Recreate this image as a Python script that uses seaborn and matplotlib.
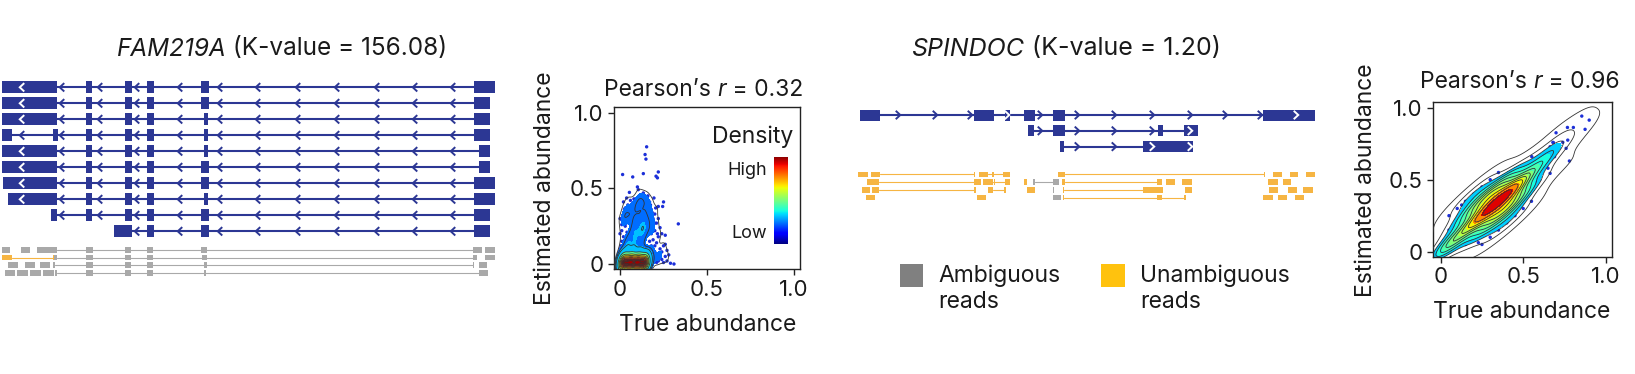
import numpy as np
import pandas as pd
import matplotlib
matplotlib.use("Agg")
import matplotlib.pyplot as plt
from matplotlib.colors import ListedColormap
from matplotlib.patches import Rectangle
from matplotlib import font_manager as fm
import seaborn as sns

# ---------------- data ----------------
fam_gene, fam_k = "FAM219A", "156.08"
spi_gene, spi_k = "SPINDOC", "1.20"

fam_transcripts = [
    [(2, 57), (86, 92), (125, 132), (147, 154), (201, 209), (474, 495)],
    [(2, 57), (86, 92), (125, 132), (147, 154), (201, 209), (474, 490)],
    [(2, 57), (86, 92), (125, 132), (147, 154), (204, 208), (474, 490)],
    [(2, 12), (53, 58), (86, 92), (125, 132), (147, 154), (204, 208), (474, 490)],
    [(2, 57), (86, 92), (125, 132), (147, 154), (204, 208), (479, 490)],
    [(2, 57), (86, 92), (125, 132), (147, 154), (201, 209), (479, 490)],
    [(3, 57), (86, 92), (125, 132), (147, 154), (201, 209), (474, 495)],
    [(8, 57), (86, 92), (125, 132), (147, 154), (204, 208), (474, 495)],
    [(51, 57), (86, 92), (125, 132), (147, 154), (201, 209), (474, 490)],
    [(114, 132), (147, 154), (201, 209), (474, 490)],
]
fam_chevrons = [22, 62, 100, 137, 180, 220, 258, 298, 337, 377, 415, 453]
fam_strand = -1

fam_reads = [
    (0, "amb", [(2, 10)]), (0, "amb", [(21, 30)]),
    (0, "amb", [(37, 57), (86, 93), (125, 131), (147, 153), (201, 207), (473, 482)]),
    (0, "amb", [(485, 495)]),
    (1, "una", [(2, 12), (53, 55)]),
    (1, "amb", [(54, 57), (86, 93), (125, 131), (147, 153), (202, 207), (473, 477)]),
    (1, "amb", [(485, 495)]),
    (2, "amb", [(8, 18)]), (2, "amb", [(25, 35)]), (2, "amb", [(40, 50)]),
    (2, "amb", [(53, 55), (86, 93), (125, 131), (147, 153), (204, 207), (473, 474)]),
    (2, "amb", [(479, 487)]),
    (3, "amb", [(5, 15)]), (3, "amb", [(17, 28)]), (3, "amb", [(30, 41)]), (3, "amb", [(43, 54)]),
    (3, "amb", [(55, 57), (86, 93), (125, 131), (147, 153), (204, 206), (479, 488)]),
]

spi_transcripts = [
    [(860, 880), (974, 994), (1005, 1010), (1024, 1035), (1053, 1065), (1263, 1315)],
    [(1028, 1034), (1053, 1065), (1158, 1163), (1184, 1198)],
    [(1060, 1064), (1143, 1193)],
]
spi_chevrons = [898, 935, 970, 1007, 1040, 1077, 1114, 1152, 1190, 1225, 1260, 1296]
spi_strand = 1

spi_reads = [
    (0, "una", [(858, 868)]), (0, "una", [(871, 880), (974, 975)]),
    (0, "una", [(979, 988), (992, 994), (1003, 1010)]),
    (0, "una", [(1058, 1065), (1264, 1265)]),
    (0, "una", [(1273, 1282)]), (0, "una", [(1290, 1298)]), (0, "una", [(1306, 1315)]),
    (1, "una", [(867, 879), (974, 981)]), (1, "una", [(983, 993), (994, 995), (1005, 1010)]),
    (1, "una", [(1024, 1027)]), (1, "amb", [(1033, 1035), (1053, 1059)]),
    (1, "una", [(1062, 1065), (1157, 1162)]), (1, "una", [(1166, 1175)]), (1, "una", [(1182, 1192)]),
    (1, "una", [(1268, 1278)]), (1, "una", [(1283, 1291)]),
    (2, "una", [(862, 870)]), (2, "una", [(872, 879), (974, 976)]),
    (2, "una", [(988, 993), (1004, 1006)]), (2, "una", [(1027, 1035)]),
    (2, "amb", [(1053, 1054)]),
    (2, "una", [(1063, 1064), (1143, 1163)]), (2, "una", [(1185, 1192)]),
    (2, "una", [(1269, 1278)]), (2, "una", [(1288, 1297)]), (2, "una", [(1303, 1313)]),
    (3, "una", [(866, 875)]), (3, "una", [(977, 986)]),
    (3, "amb", [(1053, 1061)]), (3, "una", [(1063, 1064), (1157, 1162), (1184, 1186)]),
    (3, "una", [(1263, 1273)]), (3, "una", [(1278, 1287)]), (3, "una", [(1295, 1304)]),
]

legend_labels = ["Ambiguous\nreads", "Unambiguous\nreads"]

# scatter 1 (r = 0.32): (true, estimated, weight)
s1_points = [
    (0.01, 0.004, 60), (0.03, 0.008, 60), (0.05, 0.006, 60), (0.07, 0.010, 60), (0.09, 0.005, 60),
    (0.11, 0.009, 60), (0.13, 0.006, 60), (0.15, 0.008, 60), (0.02, 0.014, 60), (0.06, 0.015, 60),
    (0.10, 0.014, 60), (0.14, 0.012, 60),
    (0.03, 0.05, 6), (0.07, 0.06, 6), (0.11, 0.05, 6), (0.15, 0.06, 6), (0.04, 0.10, 6),
    (0.08, 0.11, 6), (0.12, 0.10, 6), (0.05, 0.15, 6), (0.09, 0.16, 6), (0.13, 0.17, 6),
    (0.07, 0.20, 6), (0.11, 0.21, 6), (0.14, 0.23, 6), (0.09, 0.25, 6), (0.13, 0.27, 6),
    (0.00, 0.30, 1), (0.01, 0.26, 1), (0.00, 0.20, 1), (0.01, 0.15, 1), (0.00, 0.10, 1),
    (0.02, 0.33, 1), (0.03, 0.37, 1), (0.04, 0.30, 1), (0.05, 0.34, 1), (0.06, 0.38, 1),
    (0.07, 0.33, 1), (0.08, 0.36, 1), (0.09, 0.40, 1), (0.10, 0.35, 1), (0.11, 0.38, 1),
    (0.12, 0.41, 1), (0.13, 0.36, 1), (0.14, 0.39, 1), (0.15, 0.34, 1), (0.16, 0.38, 1),
    (0.17, 0.32, 1), (0.18, 0.36, 1), (0.19, 0.30, 1), (0.20, 0.33, 1), (0.21, 0.27, 1),
    (0.22, 0.30, 1), (0.23, 0.24, 1), (0.20, 0.22, 1), (0.22, 0.18, 1), (0.21, 0.14, 1),
    (0.23, 0.10, 1), (0.20, 0.08, 1), (0.22, 0.05, 1), (0.19, 0.02, 1), (0.21, 0.01, 1),
    (0.18, 0.12, 1), (0.17, 0.20, 1), (0.18, 0.26, 1), (0.16, 0.29, 1), (0.24, 0.03, 1),
    (0.25, 0.12, 1), (0.26, 0.19, 1), (0.24, 0.20, 1), (0.22, 0.38, 1), (0.25, 0.41, 1),
    (0.245, 0.38, 1), (0.27, 0.02, 1), (0.29, 0.005, 1), (0.31, 0.0, 1), (0.335, 0.265, 1),
    (0.27, 0.09, 1), (0.26, 0.13, 1),
    (0.005, 0.05, 1), (0.015, 0.08, 1), (0.005, 0.12, 1), (0.02, 0.18, 1), (0.01, 0.22, 1),
    (0.03, 0.25, 1), (0.02, 0.28, 1), (0.04, 0.21, 1), (0.035, 0.14, 1), (0.05, 0.27, 1),
    (0.06, 0.30, 1), (0.045, 0.32, 1), (0.07, 0.28, 1), (0.08, 0.31, 1), (0.085, 0.27, 1),
    (0.10, 0.30, 1), (0.11, 0.32, 1), (0.12, 0.30, 1), (0.13, 0.33, 1), (0.14, 0.31, 1),
    (0.15, 0.29, 1), (0.16, 0.25, 1), (0.17, 0.27, 1), (0.165, 0.22, 1), (0.18, 0.20, 1),
    (0.17, 0.15, 1), (0.19, 0.16, 1), (0.18, 0.09, 1), (0.19, 0.06, 1), (0.17, 0.04, 1),
    (0.20, 0.12, 1), (0.21, 0.04, 1), (0.23, 0.07, 1), (0.22, 0.02, 1), (0.25, 0.01, 1),
    (0.24, 0.08, 1), (0.26, 0.05, 1), (0.20, 0.27, 1), (0.19, 0.23, 1), (0.215, 0.20, 1),
    (0.155, 0.36, 1), (0.125, 0.37, 1), (0.095, 0.34, 1), (0.065, 0.35, 1), (0.035, 0.33, 1),
    (0.025, 0.36, 1), (0.105, 0.40, 1), (0.135, 0.42, 1), (0.145, 0.44, 1), (0.115, 0.43, 1),
    (0.085, 0.39, 1), (0.175, 0.39, 1), (0.185, 0.34, 1), (0.205, 0.37, 1), (0.16, 0.41, 1),
    (0.06, 0.42, 1), (0.045, 0.39, 1), (0.18, 0.01, 1), (0.16, 0.02, 1), (0.28, 0.06, 1),
    (0.153, 0.774, 1), (0.144, 0.723, 1), (0.149, 0.693, 1), (0.015, 0.591, 1), (0.073, 0.575, 1),
    (0.134, 0.597, 1), (0.22, 0.608, 1), (0.207, 0.58, 1), (0.215, 0.569, 1), (0.10, 0.509, 1),
    (0.105, 0.491, 1), (0.054, 0.473, 1), (0.134, 0.469, 1), (0.125, 0.458, 1), (0.153, 0.442, 1),
    (0.195, 0.436, 1), (0.038, 0.436, 1), (0.01, 0.292, 1), (0.019, 0.314, 1), (0.11, 0.45, 1),
    (0.16, 0.45, 1), (0.08, 0.43, 1), (0.17, 0.41, 1), (0.02, 0.41, 1), (0.10, 0.42, 1),
]
s1_x = [p[0] for p in s1_points]
s1_y = [p[1] for p in s1_points]
s1_w = [p[2] for p in s1_points]

# scatter 2 (r = 0.96)
s2_points = [
    (0.02, 0.02, 5), (0.05, 0.05, 5), (0.08, 0.02, 2), (0.02, 0.08, 2),
    (0.10, 0.10, 5), (0.15, 0.05, 2), (0.05, 0.15, 2),
    (0.15, 0.15, 6), (0.20, 0.10, 3), (0.10, 0.20, 3), (0.25, 0.05, 1), (0.05, 0.25, 1),
    (0.20, 0.20, 8), (0.25, 0.15, 4), (0.15, 0.25, 4), (0.30, 0.10, 2), (0.10, 0.30, 2),
    (0.25, 0.25, 11), (0.30, 0.20, 6), (0.20, 0.30, 6), (0.35, 0.15, 2), (0.15, 0.35, 2),
    (0.30, 0.30, 16), (0.35, 0.25, 8), (0.25, 0.35, 8), (0.40, 0.20, 3), (0.20, 0.40, 3),
    (0.35, 0.35, 22), (0.40, 0.30, 9), (0.30, 0.40, 9), (0.45, 0.25, 3), (0.25, 0.45, 3),
    (0.40, 0.40, 16), (0.45, 0.35, 7), (0.35, 0.45, 7), (0.50, 0.30, 2), (0.30, 0.50, 2),
    (0.45, 0.45, 10), (0.50, 0.40, 5), (0.40, 0.50, 5), (0.55, 0.35, 1), (0.35, 0.55, 1),
    (0.50, 0.50, 6), (0.55, 0.45, 3), (0.45, 0.55, 3),
    (0.55, 0.55, 4), (0.60, 0.50, 2), (0.50, 0.60, 2),
    (0.60, 0.60, 3), (0.65, 0.58, 1), (0.58, 0.65, 1),
    (0.65, 0.66, 2), (0.70, 0.72, 1),
    (0.855, 0.942, 1), (0.90, 0.914, 1), (0.875, 0.85, 1), (0.768, 0.863, 1), (0.804, 0.863, 1),
    (0.699, 0.826, 1), (0.78, 0.63, 1), (0.76, 0.718, 1), (0.77, 0.775, 1), (0.683, 0.757, 1),
    (0.663, 0.729, 1), (0.642, 0.683, 1), (0.618, 0.648, 1), (0.582, 0.637, 1), (0.663, 0.544, 1),
    (0.642, 0.613, 1), (0.552, 0.66, 1), (0.127, 0.324, 1), (0.228, 0.0625, 1), (0.016, 0.012, 1),
    (0.01, 0.0, 1), (0.03, 0.005, 1), (0.06, 0.0, 1), (0.0, 0.03, 1),
    (0.72, 0.74, 1), (0.74, 0.76, 1), (0.70, 0.70, 1), (0.69, 0.66, 1), (0.68, 0.76, 1),
]
s2_x = [p[0] for p in s2_points]
s2_y = [p[1] for p in s2_points]
s2_w = [p[2] for p in s2_points]

pearson = ["0.32", "0.96"]
ticks = [0, 0.5, 1.0]
tick_labels = ["0", "0.5", "1.0"]

# ---------------- style ----------------
sns.set_theme(style="ticks")


def has_italic(fam):
    try:
        f = fm.findfont(fm.FontProperties(family=fam, style="italic"), fallback_to_default=False)
        return "italic" in f.lower() or "oblique" in f.lower()
    except Exception:
        return False


FAMILY = "Liberation Sans"
for cand in ["Inter", "Open Sans", "Lato", "Roboto"]:
    if has_italic(cand):
        FAMILY = cand
        break
plt.rcParams["font.family"] = [FAMILY, "DejaVu Sans"]

W, H = 1635, 374
fig = plt.figure(figsize=(W / 100, H / 100), dpi=100)
NAVY = "#2c3794"
GRAY_READ = "#a9a9a9"
ORANGE_READ = "#f6b543"
TXT = "#1a1a1a"


def ax_px(x0, y0, x1, y1):
    return fig.add_axes([x0 / W, 1 - y1 / H, (x1 - x0) / W, (y1 - y0) / H])


def fxy(x, y):
    return x / W, 1 - y / H


rich_items = []


def rich_text(cx, cy, segs, size):
    ts = [fig.text(0, 0, s, fontsize=size, style=st, ha="left", va="center", color=TXT)
          for s, st in segs]
    rich_items.append((cx, cy, ts))


def layout_rich():
    fig.canvas.draw()
    r = fig.canvas.get_renderer()
    for cx, cy, ts in rich_items:
        widths = [t.get_window_extent(r).width for t in ts]
        x = cx - sum(widths) / 2
        for t, w in zip(ts, widths):
            t.set_position(fxy(x, cy))
            x += w


def draw_gene(ax, transcripts, y0, dy, eh, chevrons, d):
    cw, ch = 4.5, 4.2
    for i, exons in enumerate(transcripts):
        y = y0 + i * dy
        start, end = exons[0][0], exons[-1][1]
        ax.plot([start, end], [y, y], color=NAVY, lw=1.5, solid_capstyle="butt", zorder=1)
        ax.broken_barh([(s, e - s) for s, e in exons], (y - eh / 2, eh),
                       facecolors=NAVY, edgecolor="none", zorder=2)
        for c in chevrons:
            if c < start or c > end:
                continue
            inside = any(s <= c <= e for s, e in exons)
            col = "white" if inside else NAVY
            tip, arm = c + d * cw / 2, c - d * cw / 2
            ax.plot([arm, tip, arm], [y - ch, y, y + ch], color=col, lw=1.4,
                    solid_joinstyle="miter", solid_capstyle="butt", zorder=3)


def draw_reads(ax, reads, y0, dy, bh):
    for row, kind, blocks in reads:
        col = GRAY_READ if kind == "amb" else ORANGE_READ
        y = y0 + row * dy
        if len(blocks) > 1:
            ax.plot([blocks[0][1], blocks[-1][0]], [y, y], color=col, lw=0.8, zorder=1)
        ax.broken_barh([(s, e - s) for s, e in blocks], (y - bh / 2, bh),
                       facecolors=col, edgecolor="none", zorder=2)


# gene panel 1
g1 = ax_px(0, 70, 500, 285)
g1.set_xlim(0, 500)
g1.set_ylim(285, 70)
g1.axis("off")
draw_gene(g1, fam_transcripts, 87.3, 16.0, 12, fam_chevrons, fam_strand)
draw_reads(g1, fam_reads, 250, 7.6, 5.5)

# gene panel 2 (plus legend)
g2 = ax_px(820, 95, 1330, 320)
g2.set_xlim(820, 1330)
g2.set_ylim(320, 95)
g2.axis("off")
draw_gene(g2, spi_transcripts, 115, 15.8, 11, spi_chevrons, spi_strand)
draw_reads(g2, spi_reads, 174.3, 7.8, 5.5)
g2.add_patch(Rectangle((900, 264), 23, 23, facecolor="#808080", edgecolor="none"))
g2.add_patch(Rectangle((1101, 264), 24, 23, facecolor="#ffc20e", edgecolor="none"))
for lx, lab in zip([938, 1140], legend_labels):
    l1, l2 = lab.split("\n")
    g2.text(lx, 276, l1, fontsize=16.5, va="center", ha="left", color=TXT)
    g2.text(lx, 302, l2, fontsize=16.5, va="center", ha="left", color=TXT)

# gene titles
rich_text(282, 49, [(fam_gene, "italic"), (" (K-value = " + fam_k + ")", "normal")], 17.5)
rich_text(1066, 49, [(spi_gene, "italic"), (" (K-value = " + spi_k + ")", "normal")], 18)

LBL_FS = 16.5
TICK_FS = 16


def scatter_panel(box, xs, ys, ws, xlim, ylim, cmap, fill_thresh, line_thresh, bw, r,
                  title_xy, xl_xy, yl_xy):
    ax = ax_px(*box)
    df = pd.DataFrame({"x": xs, "y": ys, "w": ws})
    sns.scatterplot(data=df, x="x", y="y", ax=ax, color="#1c2fd8", s=6,
                    edgecolor="none", zorder=1)
    sns.kdeplot(data=df, x="x", y="y", weights="w", ax=ax, fill=True, levels=9,
                thresh=fill_thresh, cmap=cmap, bw_adjust=bw, zorder=2)
    sns.kdeplot(data=df, x="x", y="y", weights="w", ax=ax, levels=12, thresh=line_thresh,
                color="#333333", linewidths=0.6, bw_adjust=bw, zorder=3)
    ax.set_xlim(*xlim)
    ax.set_ylim(*ylim)
    ax.set_xticks(ticks)
    ax.set_xticklabels(tick_labels)
    ax.set_yticks(ticks)
    ax.set_yticklabels(tick_labels)
    ax.set_xlabel("")
    ax.set_ylabel("")
    for sp in ax.spines.values():
        sp.set_visible(True)
        sp.set_color("#222222")
        sp.set_linewidth(1.0)
    ax.tick_params(length=4.5, width=1.0, labelsize=TICK_FS, pad=3, colors="#222222",
                   labelcolor=TXT)
    rich_text(title_xy[0], title_xy[1],
              [("Pearson’s ", "normal"), ("r", "italic"), (" = " + r, "normal")], LBL_FS)
    fig.text(*fxy(*xl_xy), "True abundance", fontsize=LBL_FS, ha="center", va="center", color=TXT)
    fig.text(*fxy(*yl_xy), "Estimated abundance", fontsize=LBL_FS, ha="center", va="center",
             rotation=90, color=TXT)
    return ax


cm1 = ListedColormap(plt.cm.jet(np.linspace(0.22, 1.0, 256)))
cm2 = ListedColormap(plt.cm.jet(np.linspace(0.3, 1.0, 256)))

a1 = scatter_panel((614, 106.7, 800, 269.3), s1_x, s1_y, s1_w, (-0.0345, 1.034),
                   (-0.035, 1.039), cm1, 0.08, 0.04, 0.5, pearson[0],
                   (704, 90), (708, 325), (545, 188))
a2 = scatter_panel((1433.3, 101.7, 1612.3, 256.7), s2_x, s2_y, s2_w, (-0.045, 1.04),
                   (-0.035, 1.042), cm2, 0.22, 0.02, 0.85, pearson[1],
                   (1520, 82), (1522, 312), (1366, 180))

# density colour bar
cb = ax_px(774, 156.7, 788, 244)
cb.imshow(np.linspace(1, 0, 256).reshape(-1, 1), aspect="auto", cmap="jet")
cb.axis("off")
fig.text(*fxy(793, 137), "Density", fontsize=LBL_FS, ha="right", va="center", color=TXT)
fig.text(*fxy(767, 170), "High", fontsize=13, ha="right", va="center", color=TXT)
fig.text(*fxy(767, 233), "Low", fontsize=13, ha="right", va="center", color=TXT)

layout_rich()
fig.savefig("out.png", dpi=100)
